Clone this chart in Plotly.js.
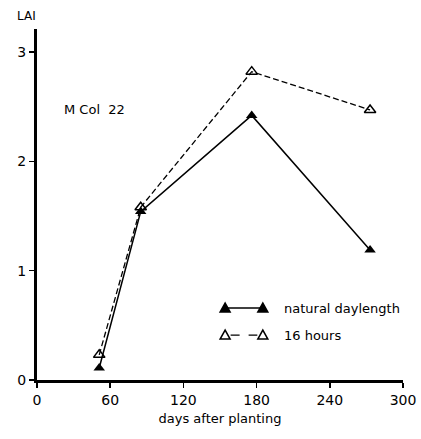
<!DOCTYPE html>
<html>
<head>
<meta charset="utf-8">
<script src="https://cdn.plot.ly/plotly-3.0.1.min.js"></script>
<style>html,body{margin:0;padding:0;background:#fff;}</style>
</head>
<body>
<div id="chart" style="width:421px;height:439px;"></div>
<script>
var days = [51, 85, 176, 273];
var naturalLAI = [0.11, 1.54, 2.42, 1.19];
var hours16LAI = [0.23, 1.58, 2.82, 2.47];
var xTicks = [0, 60, 120, 180, 240, 300];
var yTicks = [0, 1, 2, 3];
var seriesNames = ['natural daylength', '16 hours'];

var FONT = 'DejaVu Sans, sans-serif';

var traces = [
  {x: days, y: naturalLAI, mode: 'lines+markers', name: seriesNames[0],
   line: {color: '#000', width: 1.5},
   marker: {symbol: 'triangle-up', size: 10, color: '#000'}, showlegend: false},
  {x: days, y: hours16LAI, mode: 'lines+markers', name: seriesNames[1],
   line: {color: '#000', width: 1.3, dash: '6px,3px'},
   marker: {symbol: 'triangle-up-open', size: 10, color: '#000', line: {width: 1.5}}, showlegend: false}
];

var lx0 = 0.514, lx1 = 0.617, ltx = 0.669, ly0 = 0.205, ly1 = 0.128;
var TRI = 'M-5,-4L5,-4L0,5Z';

function tri(x, y, filled) {
  return {type: 'path', xref: 'paper', yref: 'paper', xsizemode: 'pixel', ysizemode: 'pixel',
    xanchor: x, yanchor: y, path: TRI,
    fillcolor: filled ? '#000' : '#fff', line: {color: '#000', width: 1.5}};
}

var layout = {
  width: 421, height: 439,
  margin: {l: 37, r: 18, t: 29, b: 59},
  paper_bgcolor: '#fff', plot_bgcolor: '#fff',
  font: {family: FONT, size: 13, color: '#000'},
  showlegend: false,
  xaxis: {range: [0, 300], tickvals: xTicks, ticktext: xTicks.map(String),
    showgrid: false, zeroline: false, showline: true, linewidth: 3, linecolor: '#000',
    ticks: 'outside', ticklen: 5, tickwidth: 1.5, tickcolor: '#000',
    tickfont: {family: FONT, size: 14},
    title: {text: 'days after planting', font: {family: FONT, size: 13}, standoff: 8}},
  yaxis: {range: [0, 3.21], tickvals: yTicks, ticktext: yTicks.map(String),
    showgrid: false, zeroline: false, showline: true, linewidth: 3, linecolor: '#000',
    ticks: 'outside', ticklen: 5, tickwidth: 1.5, tickcolor: '#000',
    tickfont: {family: FONT, size: 14}},
  shapes: [
    {type: 'line', xref: 'paper', yref: 'paper', x0: lx0, x1: lx1, y0: ly0, y1: ly0, line: {color: '#000', width: 1.5}},
    {type: 'line', xref: 'paper', yref: 'paper', x0: lx0 + 0.015, x1: lx1 - 0.015, y0: ly1, y1: ly1, line: {color: '#000', width: 1.3, dash: 'dash'}},
    tri(lx0, ly0, true), tri(lx1, ly0, true),
    tri(lx0, ly1, false), tri(lx1, ly1, false)
  ],
  annotations: [
    {text: 'LAI', xref: 'paper', yref: 'paper', x: -0.06, y: 1.037, xanchor: 'left', yanchor: 'middle', showarrow: false, font: {family: FONT, size: 12}},
    {text: 'M Col&nbsp; 22', xref: 'paper', yref: 'paper', x: 0.068, y: 0.772, xanchor: 'left', yanchor: 'middle', showarrow: false, font: {family: FONT, size: 13}},
    {text: seriesNames[0], xref: 'paper', yref: 'paper', x: ltx, y: ly0, xanchor: 'left', yanchor: 'middle', showarrow: false, font: {family: FONT, size: 13}},
    {text: seriesNames[1], xref: 'paper', yref: 'paper', x: ltx, y: ly1, xanchor: 'left', yanchor: 'middle', showarrow: false, font: {family: FONT, size: 13}}
  ]
};

Plotly.newPlot('chart', traces, layout, {displayModeBar: false, staticPlot: true});
</script>
</body>
</html>
